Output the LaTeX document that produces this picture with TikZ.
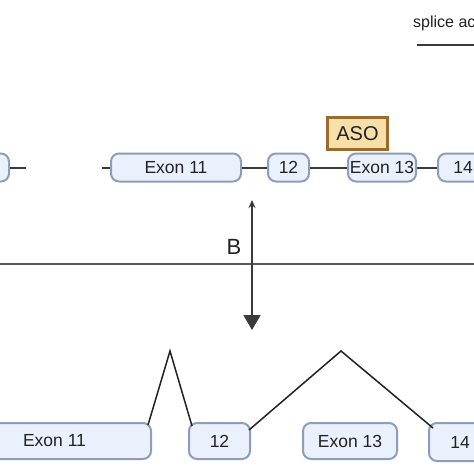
\documentclass[tikz,border=0pt]{standalone}
\usepackage{fontspec}
\setmainfont{Liberation Sans}
\usetikzlibrary{arrows.meta}
\definecolor{exfill}{HTML}{EAF1FC}
\definecolor{exdraw}{HTML}{8D9EBB}
\definecolor{asofill}{HTML}{F6DFA9}
\definecolor{asodraw}{HTML}{9A6B2C}
\definecolor{ink}{HTML}{222222}
\definecolor{wire}{HTML}{3A3A3A}
\tikzset{
  exonbox/.style={draw=exdraw, fill=exfill, line width=2pt, rounded corners=8pt,
    inner sep=0pt, text=ink, font=\fontsize{17.5}{19}\selectfont},
  asobox/.style={draw=asodraw, fill=asofill, line width=2.8pt, inner sep=0pt,
    text=ink, font=\fontsize{20}{22}\selectfont},
  wireline/.style={draw=wire, line width=2pt},
  spliceline/.style={draw=ink, line width=1.5pt},
}
\begin{document}
\begin{tikzpicture}[x=1pt,y=-1pt]
\useasboundingbox (0,0) rectangle (474,474);
\clip (0,0) rectangle (474,474);
\fill[white] (0,0) rectangle (474,474);

% legend at top right
\node[anchor=base west, text=ink, font=\fontsize{16}{18}\selectfont, inner sep=0pt] (legend) at (413,27) {splice ac};
\coordinate (lga) at (417,45);
\coordinate (lgb) at (480,45);
\draw[wireline] (lga) -- (lgb);

% top row of exons
\node[exonbox, minimum width=70pt, minimum height=28pt] (t10) at (-26,167.5) {};
\node[exonbox, minimum width=130pt, minimum height=28pt] (t11) at (176,167.5) {Exon 11};
\node[exonbox, minimum width=41pt, minimum height=28pt] (t12) at (288.5,167.5) {12};
\node[exonbox, minimum width=68pt, minimum height=28pt] (t13) at (382,167.5) {Exon 13};
\node[exonbox, minimum width=50pt, minimum height=28pt] (t14) at (463,167.5) {14};
\node[asobox, minimum width=60pt, minimum height=32pt] (aso) at (357.5,133.5) {ASO};

\coordinate (c10) at (26,167.5);
\coordinate (c11) at (102,167.5);
\draw[wireline] (t10.east) -- (c10);
\draw[wireline] (c11) -- (t11.west);
\draw[wireline] (t11.east) -- (t12.west);
\draw[wireline] (t12.east) -- (t13.west);
\draw[wireline] (t13.east) -- (t14.west);

% divider and arrow
\coordinate (hl) at (-5,264);
\coordinate (hr) at (480,264);
\draw[draw=black!65, line width=2.2pt] (hl) -- (hr);
\node[text=ink, font=\fontsize{22}{24}\selectfont, inner sep=0pt] (blabel) at (234,247) {B};
\coordinate (atop) at (252,200);
\coordinate (abot) at (252,330);
\draw[draw=wire, line width=1.6pt, {Stealth[length=8pt,width=7pt]}-{Triangle[length=15pt,width=17pt]}] (atop) -- (abot);

% bottom row of exons
\node[exonbox, minimum width=193pt, minimum height=36pt] (b11) at (54.5,441) {Exon 11};
\node[exonbox, minimum width=61pt, minimum height=36pt] (b12) at (219.5,441) {12};
\node[exonbox, minimum width=94pt, minimum height=36pt] (b13) at (350,441) {Exon 13};
\node[exonbox, minimum width=62pt, minimum height=38pt] (b14) at (460,442) {14};

% splicing lines
\coordinate (s1a) at (148,425);
\coordinate (p1) at (170,351);
\coordinate (s1b) at (192,426);
\coordinate (s2a) at (249,430);
\coordinate (p2) at (341,351);
\coordinate (s2b) at (433,428);
\draw[spliceline] (s1a) -- (p1) -- (s1b);
\draw[spliceline] (s2a) -- (p2) -- (s2b);
\end{tikzpicture}
\end{document}
